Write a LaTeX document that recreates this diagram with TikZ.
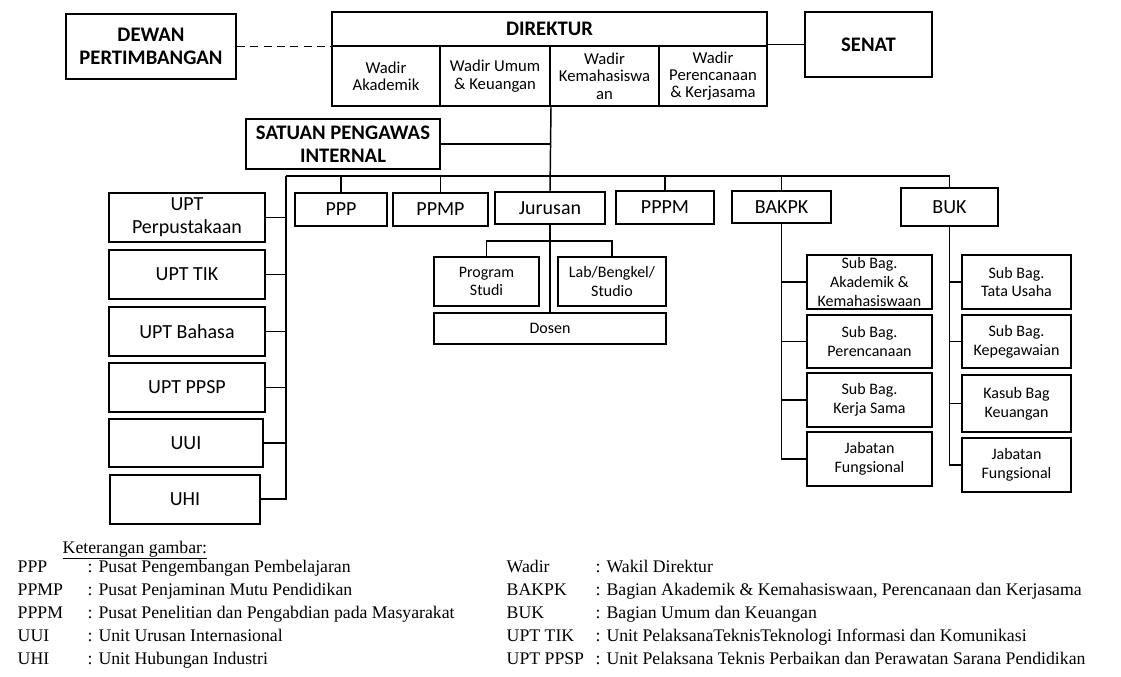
\documentclass[tikz,border=0pt]{standalone}
\usepackage{fontspec}
\setmainfont{Liberation Serif}
\setsansfont{Carlito}
\begin{document}
\begin{tikzpicture}
    [x=0.75pt,y=-0.75pt,line width=1.1pt,
    sz/.style 2 args={minimum width=#1*0.75pt,minimum height=#2*0.75pt},
    headbox/.style={rectangle,draw,line width=1.5pt,inner sep=0pt,align=center,
        font=\sffamily\bfseries\fontsize{15.5}{17.5}\selectfont},
    wadirbox/.style={rectangle,draw,line width=1.5pt,inner sep=0pt,align=center,
        font=\sffamily\fontsize{12.5}{13}\selectfont},
    unitbox/.style={rectangle,draw,line width=1.5pt,inner sep=0pt,align=center,
        font=\sffamily\fontsize{15}{17}\selectfont},
    subbox/.style={rectangle,draw,line width=1.5pt,inner sep=0pt,align=center,
        font=\sffamily\fontsize{12}{14}\selectfont},
    legend/.style={anchor=base west,inner sep=0pt,font=\fontsize{13.3}{15}\selectfont}]

    \useasboundingbox (0,0) rectangle (1121,677);
    %\draw[help lines,step=50] (0,0) grid (1121,677);

    \node[headbox,sz={170}{65}] (dewan) at (151,46.5) {DEWAN\\PERTIMBANGAN};
    \node[headbox,sz={435}{34}] (direktur) at (549.5,29) {DIREKTUR};
    \node[wadirbox,sz={108}{60}] (wak) at (386,76) {Wadir\\Akademik};
    \node[wadirbox,sz={110}{60}] (wum) at (495,76) {Wadir Umum\\\& Keuangan};
    \node[wadirbox,sz={109}{60}] (wkm) at (604.5,76) {Wadir\\Kemahasiswa\\an};
    \node[wadirbox,sz={108}{60}] (wpk) at (713,76) {Wadir\\Perencanaan\\\& Kerjasama};
    \node[headbox,sz={127}{65}] (senat) at (868.5,44.5) {SENAT};
    \node[headbox,sz={194}{50}] (spi) at (343,144) {SATUAN PENGAWAS\\INTERNAL};

    \draw[dash pattern=on 6pt off 4pt] (dewan.east) -- (dewan.east -| direktur.west);
    \draw (senat.west) -- (senat.west -| direktur.east);

    \node[unitbox,sz={92}{33}] (ppp) at (341,209.5) {PPP};
    \node[unitbox,sz={95}{33}] (ppmp) at (440.5,209.5) {PPMP};
    \node[unitbox,sz={110}{32}] (jurusan) at (550,208) {Jurusan};
    \node[unitbox,sz={98}{33}] (pppm) at (665,207.5) {PPPM};
    \node[unitbox,sz={99}{32}] (bakpk) at (781.5,207) {BAKPK};
    \node[unitbox,sz={97}{38}] (buk) at (949.5,207) {BUK};

    \node[unitbox,sz={156}{49}] (perpus) at (187,217.5) {UPT\\Perpustakaan};
    \node[unitbox,sz={156}{49}] (tik) at (187,274.5) {UPT TIK};
    \node[unitbox,sz={156}{49}] (bahasa) at (187,331.5) {UPT Bahasa};
    \node[unitbox,sz={156}{49}] (ppsp) at (187,387.5) {UPT PPSP};
    \node[unitbox,sz={154}{48}] (uui) at (186,443) {UUI};
    \node[unitbox,sz={150}{49}] (uhi) at (185,499) {UHI};

    % direktur down to jurusan, spi and the bus
    \draw (wum.south east) -- (jurusan.north);
    \draw (spi.east) -- (spi.east -| jurusan.north);
    \coordinate (busl) at (286,176);
    \draw (busl) -- (busl -| buk.north);
    \draw (ppp.north) -- (ppp.north |- busl);
    \draw (ppmp.north) -- (ppmp.north |- busl);
    \draw (pppm.north) -- (pppm.north |- busl);
    \draw (bakpk.north) -- (bakpk.north |- busl);
    \draw (buk.north) -- (buk.north |- busl);

    \draw (busl) |- (uhi.east);
    \draw (perpus.east) -- (perpus.east -| busl);
    \draw (tik.east) -- (tik.east -| busl);
    \draw (bahasa.east) -- (bahasa.east -| busl);
    \draw (ppsp.east) -- (ppsp.east -| busl);
    \draw (uui.east) -- (uui.east -| busl);

    \node[subbox,sz={105}{49}] (prodi) at (486.5,281.5) {Program\\Studi};
    \node[subbox,sz={108}{49}] (lab) at (612,281.5) {Lab/Bengkel/\\Studio};
    \node[subbox,sz={232}{31}] (dosen) at (550,328.5) {Dosen};
    \draw (prodi.north) -- ++(0,-15) -| (lab.north);
    \draw (jurusan.south) -- (dosen.north);

    \node[subbox,sz={125}{54}] (sbak) at (869.5,282) {Sub Bag.\\Akademik \&\\Kemahasiswaan};
    \node[subbox,sz={125}{53}] (sbpr) at (869.5,341.5) {Sub Bag.\\Perencanaan};
    \node[subbox,sz={125}{54}] (sbks) at (869.5,400) {Sub Bag.\\Kerja Sama};
    \node[subbox,sz={125}{54}] (jfa) at (869.5,459) {Jabatan\\Fungsional};
    \draw (bakpk.south) |- (jfa.west);
    \draw (sbak.west) -- (sbak.west -| bakpk.south);
    \draw (sbpr.west) -- (sbpr.west -| bakpk.south);
    \draw (sbks.west) -- (sbks.west -| bakpk.south);

    \node[subbox,sz={109}{54}] (sbtu) at (1016.5,282) {Sub Bag.\\Tata Usaha};
    \node[subbox,sz={109}{53}] (sbkp) at (1016.5,341.5) {Sub Bag.\\Kepegawaian};
    \node[subbox,sz={109}{57}] (ksbk) at (1016.5,403.5) {Kasub Bag\\Keuangan};
    \node[subbox,sz={109}{54}] (jfb) at (1016.5,465) {Jabatan\\Fungsional};
    \draw (buk.south) |- (jfb.west);
    \draw (sbtu.west) -- (sbtu.west -| buk.south);
    \draw (sbkp.west) -- (sbkp.west -| buk.south);
    \draw (ksbk.west) -- (ksbk.west -| buk.south);

    % keterangan
    \node[legend] (ket) at (62,553) {\underline{Keterangan gambar:}};
    \node[legend] (la1) at (17,572) {PPP};
    \node[legend] (ld1) at (87,572) {: Pusat Pengembangan Pembelajaran};
    \node[legend] (la2) at (17,595) {PPMP};
    \node[legend] (ld2) at (87,595) {: Pusat Penjaminan Mutu Pendidikan};
    \node[legend] (la3) at (17,618) {PPPM};
    \node[legend] (ld3) at (87,618) {: Pusat Penelitian dan Pengabdian pada Masyarakat};
    \node[legend] (la4) at (17,641) {UUI};
    \node[legend] (ld4) at (87,641) {: Unit Urusan Internasional};
    \node[legend] (la5) at (17,664) {UHI};
    \node[legend] (ld5) at (87,664) {: Unit Hubungan Industri};

    \node[legend] (ra1) at (506,572) {Wadir};
    \node[legend] (rd1) at (595,572) {: Wakil Direktur};
    \node[legend] (ra2) at (506,595) {BAKPK};
    \node[legend] (rd2) at (595,595) {: Bagian Akademik \& Kemahasiswaan, Perencanaan dan Kerjasama};
    \node[legend] (ra3) at (506,618) {BUK};
    \node[legend] (rd3) at (595,618) {: Bagian Umum dan Keuangan};
    \node[legend] (ra4) at (506,641) {UPT TIK};
    \node[legend] (rd4) at (595,641) {: Unit PelaksanaTeknisTeknologi Informasi dan Komunikasi};
    \node[legend] (ra5) at (506,664) {UPT PPSP};
    \node[legend] (rd5) at (595,664) {: Unit Pelaksana Teknis Perbaikan dan Perawatan Sarana Pendidikan};
\end{tikzpicture}
\end{document}
